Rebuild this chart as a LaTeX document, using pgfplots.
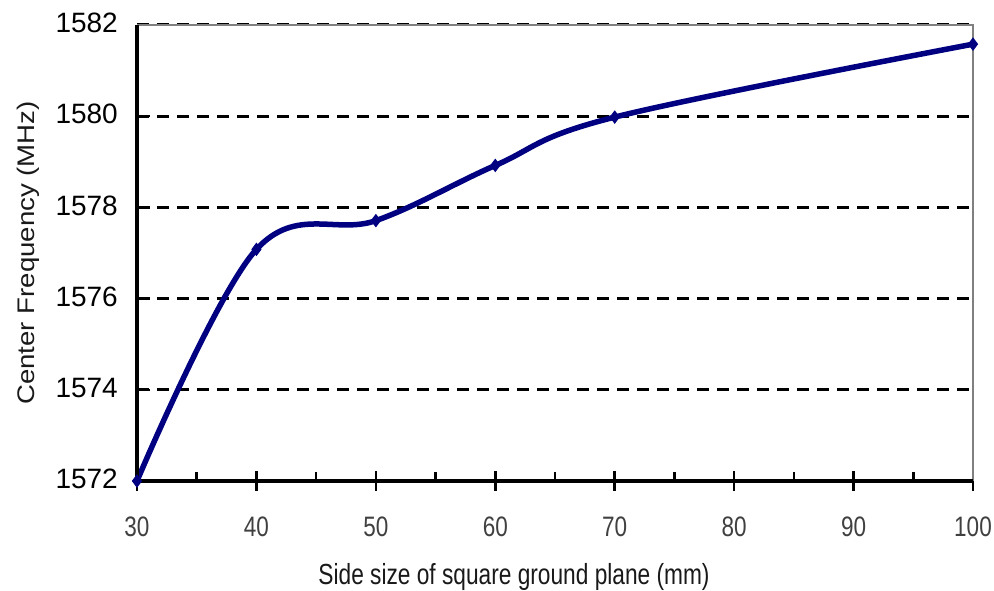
\documentclass[border=0pt]{standalone}
\usepackage{graphicx}
\usepackage{pgfplots}
\pgfplotsset{compat=1.18}
\usepackage{fontspec}
\setmainfont{Liberation Sans}
\usetikzlibrary{calc}
\definecolor{navyline}{RGB}{0,0,128}
\begin{document}
\begin{tikzpicture}
\begin{axis}[
  scale only axis, width=836bp, height=456bp,
  xmin=30, xmax=100, ymin=1572, ymax=1582,
  xtick={30,40,...,100}, ytick={1572,1574,...,1582},
  minor ytick={1572,1574,...,1582},
  extra x ticks={35,45,...,95}, extra x tick labels={},
  extra x tick style={tick align=inside, major tick length=9bp, grid=none},
  tick pos=left,
  x tick style={black, line width=2.5bp},
  major y tick style={draw=none},
  minor y tick style={black, line width=2.5bp},
  xtick align=center, ytick align=inside,
  major tick length=20bp, minor tick length=13bp,
  axis line style={draw=none},
  ymajorgrids, xmajorgrids=false,
  major grid style={black, line width=3bp, dash pattern=on 12bp off 8bp},
  /pgf/number format/1000 sep={},
  /pgf/number format/assume math mode=true,
  xticklabel={\scalebox{1}[1.25]{\pgfmathprintnumber{\tick}}},
  xticklabel style={font=\fontsize{22.5bp}{24bp}\selectfont, color=black!75, anchor=base, inner sep=0pt, yshift=-46bp},
  yticklabel style={font=\fontsize{28bp}{30bp}\selectfont, color=black, inner sep=0pt, xshift=-19bp, yshift=2bp},
  xlabel={\scalebox{1}[1.28]{Side size of square ground plane (mm)}},
  ylabel={\scalebox{1.15}[1]{Center Frequency (MHz)}},
  xlabel style={font=\fontsize{22.7bp}{24bp}\selectfont, color=black!90, at={(axis description cs:0.451,-0.2259)}, anchor=base},
  ylabel style={font=\fontsize{24bp}{26bp}\selectfont, color=black!90, at={(axis description cs:-0.1304,0.5)}, anchor=center, rotate=0},
  clip=false,
]
\addplot[navyline, line width=5.5bp, smooth, tension=0.6,
  mark=diamond*, mark size=6bp, mark options={solid, fill=navyline, line width=1bp}]
  coordinates {
  (30,1572.0) (40,1577.08) (50,1577.71) (60,1578.92) (70,1579.98) (100,1581.58)
  };
\draw[black!50, line width=2.5bp] (rel axis cs:0,1) -- (rel axis cs:1,1) -- (rel axis cs:1,0);
\draw[black, line width=4bp] (rel axis cs:0,1) -- (rel axis cs:0,0) -- (rel axis cs:1,0);
\coordinate (SW) at (rel axis cs:0,0);
\coordinate (NE) at (rel axis cs:1,1);
\end{axis}
\pgfresetboundingbox
\path ($(SW)+(-137bp,-110bp)$) rectangle ($(NE)+(21bp,25bp)$);
\end{tikzpicture}
\end{document}
